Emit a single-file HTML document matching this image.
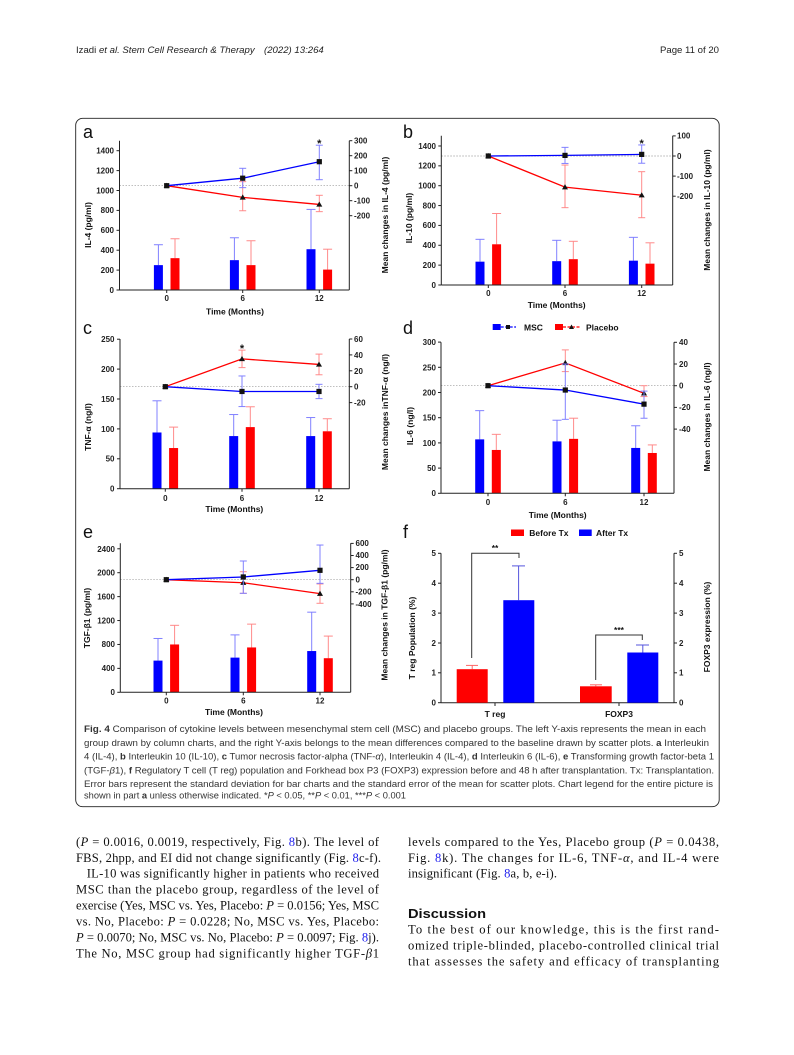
<!DOCTYPE html>
<html><head><meta charset="utf-8"><style>
html,body{margin:0;padding:0;background:#fff;}
svg{display:block;}
.t{font-family:"Liberation Sans",sans-serif;font-weight:bold;font-size:8px;fill:#222;}
.ti{font-family:"Liberation Sans",sans-serif;font-weight:bold;font-size:8.5px;fill:#111;}
.st{font-family:"Liberation Sans",sans-serif;font-weight:bold;font-size:11px;fill:#111;}
.lt{font-family:"Liberation Sans",sans-serif;font-size:18px;fill:#111;}
.cap{font-family:"Liberation Sans",sans-serif;font-size:9.6px;fill:#333;}
.bd{font-family:"Liberation Serif",serif;font-size:12.6px;fill:#111;}
.hd{font-family:"Liberation Sans",sans-serif;font-size:9.6px;fill:#222;}
</style></head><body>
<svg id="s" width="794" height="1055" viewBox="0 0 794 1055" xmlns="http://www.w3.org/2000/svg">
<text class="hd" x="76" y="53">Izadi <tspan font-style="italic">et al. Stem Cell Research &amp; Therapy</tspan></text>
<text class="hd" x="264" y="53" font-style="italic">(2022) 13:264</text>
<text class="hd" x="719" y="53" text-anchor="end">Page 11 of 20</text>
<rect x="75.7" y="118.3" width="643.5" height="688.4" rx="7" fill="none" stroke="#222" stroke-width="0.9"/>
<g id="g"></g>

<text class="lt" x="83" y="138">a</text>
<text class="lt" x="403" y="138">b</text>
<text class="lt" x="83" y="334">c</text>
<text class="lt" x="403" y="334">d</text>
<text class="lt" x="83" y="538">e</text>
<text class="lt" x="403" y="538">f</text>

<!-- panel a -->
<g class="t" text-anchor="end">
<text x="114" y="293">0</text><text x="114" y="273">200</text><text x="114" y="253">400</text><text x="114" y="233">600</text><text x="114" y="213">800</text><text x="114" y="193.5">1000</text><text x="114" y="173.5">1200</text><text x="114" y="153.5">1400</text>
</g>
<g class="t">
<text x="354" y="143.5">300</text><text x="354" y="158.5">200</text><text x="354" y="173.5">100</text><text x="354" y="188.5">0</text><text x="354" y="203.5">-100</text><text x="354" y="218.5">-200</text>
</g>
<g class="t" text-anchor="middle"><text x="166.7" y="301">0</text><text x="242.7" y="301">6</text><text x="319.3" y="301">12</text></g>
<text class="ti" x="235" y="314.5" text-anchor="middle">Time (Months)</text>
<text class="ti" transform="translate(91,225) rotate(-90)" text-anchor="middle">IL-4 (pg/ml)</text>
<text class="ti" transform="translate(388,215) rotate(-90)" text-anchor="middle">Mean changes in IL-4 (pg/ml)</text>
<text class="st" x="319.3" y="147" text-anchor="middle">*</text>

<!-- panel b -->
<g class="t" text-anchor="end">
<text x="436" y="288">0</text><text x="436" y="268">200</text><text x="436" y="248">400</text><text x="436" y="228">600</text><text x="436" y="208.5">800</text><text x="436" y="188.5">1000</text><text x="436" y="168.5">1200</text><text x="436" y="149">1400</text>
</g>
<g class="t">
<text x="677" y="138.5">100</text><text x="677" y="159">0</text><text x="677" y="179">-100</text><text x="677" y="199">-200</text>
</g>
<g class="t" text-anchor="middle"><text x="488.3" y="296">0</text><text x="565" y="296">6</text><text x="641.7" y="296">12</text></g>
<text class="ti" x="556.7" y="308" text-anchor="middle">Time (Months)</text>
<text class="ti" transform="translate(412,218) rotate(-90)" text-anchor="middle">IL-10 (pg/ml)</text>
<text class="ti" transform="translate(710,210) rotate(-90)" text-anchor="middle">Mean changes in IL-10 (pg/ml)</text>
<text class="st" x="641.7" y="147" text-anchor="middle">*</text>

<!-- panel c -->
<g class="t" text-anchor="end">
<text x="114.5" y="491.5">0</text><text x="114.5" y="461.5">50</text><text x="114.5" y="432">100</text><text x="114.5" y="402">150</text><text x="114.5" y="372">200</text><text x="114.5" y="342">250</text>
</g>
<g class="t">
<text x="354" y="342">60</text><text x="354" y="358">40</text><text x="354" y="374">20</text><text x="354" y="389.5">0</text><text x="354" y="405.5">-20</text>
</g>
<g class="t" text-anchor="middle"><text x="165.3" y="501">0</text><text x="242" y="501">6</text><text x="319" y="501">12</text></g>
<text class="ti" x="234.3" y="512" text-anchor="middle">Time (Months)</text>
<text class="ti" transform="translate(91,427) rotate(-90)" text-anchor="middle">TNF-α (ng/l)</text>
<text class="ti" transform="translate(388,412) rotate(-90)" text-anchor="middle">Mean changes inTNF-α (ng/l)</text>
<text class="st" x="242" y="352" text-anchor="middle">*</text>

<!-- panel d -->
<g class="t" text-anchor="end">
<text x="436" y="496">0</text><text x="436" y="471">50</text><text x="436" y="446">100</text><text x="436" y="420.5">150</text><text x="436" y="395.5">200</text><text x="436" y="370.5">250</text><text x="436" y="345">300</text>
</g>
<g class="t">
<text x="679" y="345">40</text><text x="679" y="367">20</text><text x="679" y="388.5">0</text><text x="679" y="410">-20</text><text x="679" y="432">-40</text>
</g>
<g class="t" text-anchor="middle"><text x="488" y="505">0</text><text x="565.3" y="505">6</text><text x="644" y="505">12</text></g>
<text class="ti" x="557.7" y="518" text-anchor="middle">Time (Months)</text>
<text class="ti" transform="translate(413,426) rotate(-90)" text-anchor="middle">IL-6 (ng/l)</text>
<text class="ti" transform="translate(710,417) rotate(-90)" text-anchor="middle">Mean changes in IL-6 (ng/l)</text>
<rect x="492.7" y="324" width="8" height="6" fill="#0000ff"/>
<line x1="500.7" y1="327" x2="516" y2="327" stroke="#0000ff" stroke-width="1.2" stroke-dasharray="3,1.5"/>
<rect x="506" y="325" width="4" height="4" fill="#111"/>
<text class="ti" x="524" y="330.5">MSC</text>
<rect x="555" y="324" width="8" height="6" fill="#ff0000"/>
<line x1="563" y1="327" x2="580" y2="327" stroke="#ff0000" stroke-width="1.2" stroke-dasharray="3,1.5"/>
<polygon points="571.5,324.5 574,329 569,329" fill="#111"/>
<text class="ti" x="586" y="330.5">Placebo</text>

<!-- panel e -->
<g class="t" text-anchor="end">
<text x="115" y="695">0</text><text x="115" y="671">400</text><text x="115" y="647">800</text><text x="115" y="623.5">1200</text><text x="115" y="599.5">1600</text><text x="115" y="575.5">2000</text><text x="115" y="552">2400</text>
</g>
<g class="t">
<text x="355.5" y="546">600</text><text x="355.5" y="558">400</text><text x="355.5" y="570">200</text><text x="355.5" y="582.5">0</text><text x="355.5" y="594.5">-200</text><text x="355.5" y="607">-400</text>
</g>
<g class="t" text-anchor="middle"><text x="166.3" y="703.5">0</text><text x="243.3" y="703.5">6</text><text x="320" y="703.5">12</text></g>
<text class="ti" x="234" y="715" text-anchor="middle">Time (Months)</text>
<text class="ti" transform="translate(90,618) rotate(-90)" text-anchor="middle">TGF-β1 (pg/ml)</text>
<text class="ti" transform="translate(387.5,615) rotate(-90)" text-anchor="middle">Mean changes in TGF-β1 (pg/ml)</text>

<!-- panel f -->
<g stroke="#222" stroke-width="1" fill="none">
<line x1="441" y1="553.3" x2="441" y2="702.7"/><line x1="441" y1="702.7" x2="674" y2="702.7"/><line x1="674" y1="553.3" x2="674" y2="702.7"/>
<line x1="438" y1="702.7" x2="441" y2="702.7"/><line x1="438" y1="672.8" x2="441" y2="672.8"/><line x1="438" y1="643" x2="441" y2="643"/><line x1="438" y1="613.1" x2="441" y2="613.1"/><line x1="438" y1="583.2" x2="441" y2="583.2"/><line x1="438" y1="553.3" x2="441" y2="553.3"/>
<line x1="674" y1="702.7" x2="677" y2="702.7"/><line x1="674" y1="672.8" x2="677" y2="672.8"/><line x1="674" y1="643" x2="677" y2="643"/><line x1="674" y1="613.1" x2="677" y2="613.1"/><line x1="674" y1="583.2" x2="677" y2="583.2"/><line x1="674" y1="553.3" x2="677" y2="553.3"/>
<line x1="495" y1="702.7" x2="495" y2="706"/><line x1="619" y1="702.7" x2="619" y2="706"/>
</g>
<g stroke="#ff6666" stroke-width="1"><line x1="472.2" y1="669.2" x2="472.2" y2="665.4"/><line x1="466" y1="665.4" x2="478" y2="665.4"/>
<line x1="595.8" y1="686.3" x2="595.8" y2="684.8"/><line x1="590" y1="684.8" x2="602" y2="684.8"/></g>
<g stroke="#5555dd" stroke-width="1"><line x1="518.6" y1="600.2" x2="518.6" y2="565.9"/><line x1="512" y1="565.9" x2="525" y2="565.9"/>
<line x1="642.8" y1="652.5" x2="642.8" y2="645"/><line x1="636" y1="645" x2="649" y2="645"/></g>
<rect x="456.7" y="669.2" width="31" height="33.5" fill="#ff0000"/>
<rect x="503.3" y="600.2" width="31" height="102.5" fill="#0000ff"/>
<rect x="580" y="686.3" width="31.7" height="16.4" fill="#ff0000"/>
<rect x="627.3" y="652.5" width="31" height="50.2" fill="#0000ff"/>
<g stroke="#333" stroke-width="1" fill="none">
<polyline points="471.7,658 471.7,553.3 519,553.3 519,558"/>
<polyline points="595.7,680 595.7,635 642.3,635 642.3,640"/>
</g>
<text class="ti" x="495" y="551" text-anchor="middle">**</text>
<text class="ti" x="619" y="633" text-anchor="middle">***</text>
<g class="t" text-anchor="end">
<text x="436" y="705.5">0</text><text x="436" y="675.5">1</text><text x="436" y="646">2</text><text x="436" y="616">3</text><text x="436" y="586">4</text><text x="436" y="556">5</text>
</g>
<g class="t">
<text x="679" y="705.5">0</text><text x="679" y="675.5">1</text><text x="679" y="646">2</text><text x="679" y="616">3</text><text x="679" y="586">4</text><text x="679" y="556">5</text>
</g>
<text class="ti" x="495" y="717" text-anchor="middle">T reg</text>
<text class="ti" x="619" y="717" text-anchor="middle">FOXP3</text>
<text class="ti" transform="translate(415,638) rotate(-90)" text-anchor="middle">T reg Population (%)</text>
<text class="ti" transform="translate(710,627) rotate(-90)" text-anchor="middle">FOXP3 expression (%)</text>
<rect x="511" y="529.5" width="13" height="6.5" fill="#ff0000"/>
<text class="ti" x="529.3" y="536">Before Tx</text>
<rect x="579" y="529.5" width="12.7" height="6.5" fill="#0000ff"/>
<text class="ti" x="596" y="536">After Tx</text>

<!-- caption -->
<g class="cap">
<text x="84" y="732" textLength="622" lengthAdjust="spacingAndGlyphs"><tspan font-weight="bold">Fig. 4</tspan>  Comparison of cytokine levels between mesenchymal stem cell (MSC) and placebo groups. The left Y-axis represents the mean in each</text>
<text x="84" y="746" textLength="625" lengthAdjust="spacingAndGlyphs">group drawn by column charts, and the right Y-axis belongs to the mean differences compared to the baseline drawn by scatter plots. <tspan font-weight="bold">a</tspan> Interleukin</text>
<text x="84" y="759.5" textLength="630" lengthAdjust="spacingAndGlyphs">4 (IL-4), <tspan font-weight="bold">b</tspan> Interleukin 10 (IL-10), <tspan font-weight="bold">c</tspan> Tumor necrosis factor-alpha (TNF-<tspan font-style="italic">α</tspan>), Interleukin 4 (IL-4), <tspan font-weight="bold">d</tspan> Interleukin 6 (IL-6), <tspan font-weight="bold">e</tspan> Transforming growth factor-beta 1</text>
<text x="84" y="773.5" textLength="630" lengthAdjust="spacingAndGlyphs">(TGF-<tspan font-style="italic">β</tspan>1), <tspan font-weight="bold">f</tspan> Regulatory T cell (T reg) population and Forkhead box P3 (FOXP3) expression before and 48 h after transplantation. Tx: Transplantation.</text>
<text x="84" y="787" textLength="629" lengthAdjust="spacingAndGlyphs">Error bars represent the standard deviation for bar charts and the standard error of the mean for scatter plots. Chart legend for the entire picture is</text>
<text x="84" y="798.5" textLength="322" lengthAdjust="spacingAndGlyphs">shown in part <tspan font-weight="bold">a</tspan> unless otherwise indicated. *<tspan font-style="italic">P</tspan> &lt; 0.05, **<tspan font-style="italic">P</tspan> &lt; 0.01, ***<tspan font-style="italic">P</tspan> &lt; 0.001</text>
</g>

<!-- body -->
<g class="bd">
<text x="76" y="846" textLength="303" lengthAdjust="spacing">(<tspan font-style="italic">P</tspan> = 0.0016, 0.0019, respectively, Fig. <tspan fill="#2222ee">8</tspan>b). The level of</text>
<text x="76" y="862" textLength="305" lengthAdjust="spacing">FBS, 2hpp, and EI did not change significantly (Fig. <tspan fill="#2222ee">8</tspan>c-f).</text>
<text x="86.7" y="877.5" textLength="292.3" lengthAdjust="spacing">IL-10 was significantly higher in patients who received</text>
<text x="76" y="893.5" textLength="303" lengthAdjust="spacing">MSC than the placebo group, regardless of the level of</text>
<text x="76" y="909.5" textLength="303" lengthAdjust="spacing">exercise (Yes, MSC vs. Yes, Placebo: <tspan font-style="italic">P</tspan> = 0.0156; Yes, MSC</text>
<text x="76" y="925.5" textLength="303" lengthAdjust="spacing">vs. No, Placebo: <tspan font-style="italic">P</tspan> = 0.0228; No, MSC vs. Yes, Placebo:</text>
<text x="76" y="941.5" textLength="303" lengthAdjust="spacing"><tspan font-style="italic">P</tspan> = 0.0070; No, MSC vs. No, Placebo: <tspan font-style="italic">P</tspan> = 0.0097; Fig. <tspan fill="#2222ee">8</tspan>j).</text>
<text x="76" y="957.5" textLength="303" lengthAdjust="spacing">The No, MSC group had significantly higher TGF-<tspan font-style="italic">β</tspan>1</text>

<text x="408" y="846" textLength="311" lengthAdjust="spacing">levels compared to the Yes, Placebo group (<tspan font-style="italic">P</tspan> = 0.0438,</text>
<text x="408" y="862" textLength="311" lengthAdjust="spacing">Fig. <tspan fill="#2222ee">8</tspan>k). The changes for IL-6, TNF-<tspan font-style="italic">α</tspan>, and IL-4 were</text>
<text x="408" y="877.5" textLength="149" lengthAdjust="spacing">insignificant (Fig. <tspan fill="#2222ee">8</tspan>a, b, e-i).</text>
<text x="408" y="918" font-family="Liberation Sans, sans-serif" font-weight="bold" font-size="12.5" textLength="78" lengthAdjust="spacingAndGlyphs">Discussion</text>
<text x="408" y="933.5" textLength="311" lengthAdjust="spacing">To the best of our knowledge, this is the first rand-</text>
<text x="408" y="949.5" textLength="311" lengthAdjust="spacing">omized triple-blinded, placebo-controlled clinical trial</text>
<text x="408" y="965.5" textLength="311" lengthAdjust="spacing">that assesses the safety and efficacy of transplanting</text>
</g>
</svg>
<script>
(function(){
var NS="http://www.w3.org/2000/svg",g=document.getElementById("g");
function el(n,a){var e=document.createElementNS(NS,n);for(var k in a)e.setAttribute(k,a[k]);g.appendChild(e);return e;}
function ln(x1,y1,x2,y2,c,w,d){var a={x1:x1,y1:y1,x2:x2,y2:y2,stroke:c,"stroke-width":w||1};if(d)a["stroke-dasharray"]=d;el("line",a);}
var P=[
{L:119.5,R:349.3,y0:290,ly:0.0995,top:140.7,r0:185.7,ry:0.15,xs:[166.7,242.7,319.3],lt:[0,200,400,600,800,1000,1200,1400],rt:[300,200,100,0,-100,-200],
bb:[[250,455],[300,525],[410,810]],rb:[[320,515],[250,495],[205,410]],bl:[[0,0,0],[50,-13,116],[160,40,270]],rl:[[0,0,0],[-78,-167,27],[-125,-173,-64]]},
{L:441.3,R:672.7,y0:285,ly:0.0993,top:135.7,r0:156,ry:0.201,xs:[488.3,565,641.7],lt:[0,200,400,600,800,1000,1200,1400],rt:[100,0,-100,-200],
bb:[[235,460],[240,450],[245,480]],rb:[[410,720],[260,440],[215,425]],bl:[[0,0,0],[3,-37,43],[8,-36,55]],rl:[[0,0,0],[-155,-257,-45],[-195,-307,-78]]},
{L:120,R:349.3,y0:488.7,ly:0.598,top:339,r0:386.7,ry:0.795,xs:[165.3,242,319],lt:[0,50,100,150,200,250],rt:[60,40,20,0,-20],
bb:[[94,147],[88,124],[88,119]],rb:[[68,103],[103,137],[96,117]],bl:[[0,0,0],[-6,-25,13.5],[-6,-15,3]],rl:[[0,0,0],[35,24,46],[28,15,41]]},
{L:441,R:674,y0:493.3,ly:0.504,top:342.3,r0:385.7,ry:1.085,xs:[488,565.3,644],lt:[0,50,100,150,200,250,300],rt:[40,20,0,-20,-40],
bb:[[107,164],[103,145],[90,134]],rb:[[86,117],[108,149],[80,96]],bl:[[0,0,0],[-4,-31,20],[-17,-30,-5]],rl:[[0,0,0],[21,13,33],[-7,-10,0]]},
{L:120.3,R:350.7,y0:692.3,ly:0.0598,top:543.3,r0:579.7,ry:0.0605,xs:[166.3,243.3,320],lt:[0,400,800,1200,1600,2000,2400],rt:[600,400,200,0,-200,-400],
bb:[[530,900],[580,960],[690,1340]],rb:[[800,1120],[750,1140],[570,940]],bl:[[0,0,0],[45,-225,309],[155,-60,573]],rl:[[0,0,0],[-50,-225,132],[-230,-390,-70]]}
];
P.forEach(function(p){
 var ly=function(v){return p.y0-v*p.ly},ry=function(v){return p.r0-v*p.ry};
 ln(p.L,p.r0,p.R,p.r0,"#999",0.7,"1.5,1.5");
 for(var i=0;i<3;i++){
  var x=p.xs[i];
  [[p.bb[i],x-8.3,"#0000ff","#8080ff"],[p.rb[i],x+8.3,"#ff0000","#ff8a8a"]].forEach(function(b){
   var v=b[0],cx=b[1];
   ln(cx,ly(v[0]),cx,ly(v[1]),b[3],1);ln(cx-4.5,ly(v[1]),cx+4.5,ly(v[1]),b[3],1);
   el("rect",{x:cx-4.5,y:ly(v[0]),width:9,height:v[0]*p.ly,fill:b[2]});
  });
 }
 [[p.rl,"#ff0000","#ff8a8a",1],[p.bl,"#0000ff","#8080ff",0]].forEach(function(s){
  var pts=[];
  for(var i=0;i<3;i++){var x=p.xs[i],d=s[0][i];pts.push(x+","+ry(d[0]));
   if(i>0){ln(x,ry(d[1]),x,ry(d[2]),s[2],1);ln(x-3.5,ry(d[1]),x+3.5,ry(d[1]),s[2],1);ln(x-3.5,ry(d[2]),x+3.5,ry(d[2]),s[2],1);}}
  el("polyline",{points:pts.join(" "),fill:"none",stroke:s[1],"stroke-width":1.3});
  for(var i=0;i<3;i++){var x=p.xs[i],y=ry(s[0][i][0]);
   if(s[3])el("polygon",{points:(x)+","+(y-3)+" "+(x+3)+","+(y+2.2)+" "+(x-3)+","+(y+2.2),fill:"#111"});
   else el("rect",{x:x-2.6,y:y-2.6,width:5.2,height:5.2,fill:"#111"});}
 });
 ln(p.L,p.top,p.L,p.y0,"#222",1);ln(p.R,p.top,p.R,p.y0,"#222",1);ln(p.L,p.y0,p.R,p.y0,"#222",1);
 p.lt.forEach(function(v){ln(p.L-3,ly(v),p.L,ly(v),"#222",1)});
 p.rt.forEach(function(v){ln(p.R,ry(v),p.R+3,ry(v),"#222",1)});
 p.xs.forEach(function(x){ln(x,p.y0,x,p.y0+3,"#222",1)});
});
})();
</script>
</body></html>
